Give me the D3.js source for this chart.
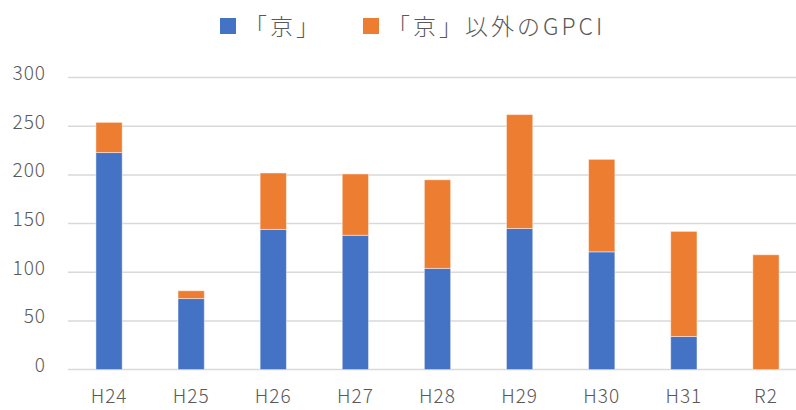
<!DOCTYPE html>
<html>
<head>
<meta charset="utf-8">
<script src="https://cdn.jsdelivr.net/npm/d3@7"></script>
<style>
  html, body { margin: 0; padding: 0; background: #fff; }
  #chart { width: 796px; height: 410px; overflow: hidden; }
</style>
</head>
<body>
<div id="chart"></div>
<script>
const categories = ["H24", "H25", "H26", "H27", "H28", "H29", "H30", "H31", "R2"];
const kyoValues = [223, 73, 144, 138, 104, 145, 121, 34, 0];
const otherValues = [31, 8, 58, 63, 91, 117, 95, 108, 118];
const seriesNames = ["「京」", "「京」以外のGPCI"];
const yTicks = [0, 50, 100, 150, 200, 250, 300];

const width = 796;
const height = 410;
const colors = ["#4472C4", "#ED7D31"];
const font = "'Noto Sans CJK JP', 'Noto Sans', sans-serif";

// table for d3.stack
const table = categories.map((c, i) => ({ cat: c, kyo: kyoValues[i], other: otherValues[i] }));
const stacked = d3.stack().keys(["kyo", "other"])(table);

const x = d3.scaleBand()
    .domain(categories)
    .range([68, 807])
    .paddingInner(0.68)
    .paddingOuter(0.34);

const y = d3.scaleLinear()
    .domain([0, 300])
    .range([369.6, 77.6]);

const svg = d3.create("svg")
    .attr("width", width)
    .attr("height", height)
    .attr("viewBox", [0, 0, width, height])
    .style("font-family", font)
    .style("font-weight", 300);

// gridlines
svg.append("g")
    .selectAll("line")
    .data(yTicks)
    .join("line")
    .attr("x1", 68)
    .attr("x2", width)
    .attr("y1", d => y(d))
    .attr("y2", d => y(d))
    .attr("stroke", "#d9d9d9")
    .attr("stroke-width", 1.5);

// y axis labels
const yAxis = svg.append("g")
    .attr("transform", "translate(46,0)")
    .call(d3.axisLeft(y).tickValues(yTicks).tickSize(0).tickPadding(0));
yAxis.select(".domain").remove();
yAxis.selectAll("text")
    .attr("fill", "#595959")
    .style("font-size", "19px")
    .style("font-family", font)
    .style("font-weight", 300)
    .style("letter-spacing", "1px")
    .attr("dy", "0.1em");

// bars
svg.append("g")
    .selectAll("g")
    .data(stacked)
    .join("g")
    .attr("fill", (d, i) => colors[i])
    .selectAll("rect")
    .data(d => d.filter(s => s[1] - s[0] > 0))
    .join("rect")
    .attr("x", d => x(d.data.cat))
    .attr("width", x.bandwidth())
    .attr("y", d => y(d[1]))
    .attr("height", d => y(d[0]) - y(d[1]))
    .attr("stroke", "#ffffff")
    .attr("stroke-opacity", 0.45)
    .attr("stroke-width", 1);

// x axis labels
const xAxis = svg.append("g")
    .attr("transform", `translate(0,${y(0)})`)
    .call(d3.axisBottom(x).tickSize(0).tickPadding(0));
xAxis.select(".domain").remove();
xAxis.selectAll("text")
    .attr("fill", "#595959")
    .style("font-size", "19px")
    .style("font-family", font)
    .style("font-weight", 300)
    .style("letter-spacing", "1px")
    .attr("dy", "1.75em");

// legend
const legendX = [220, 363];
const legend = svg.append("g")
    .selectAll("g")
    .data(seriesNames)
    .join("g")
    .attr("transform", (d, i) => `translate(${legendX[i]},18)`);

legend.append("rect")
    .attr("width", 16)
    .attr("height", 16)
    .attr("fill", (d, i) => colors[i]);

legend.append("text")
    .attr("x", 24)
    .attr("y", 9)
    .attr("dy", "0.36em")
    .attr("fill", "#595959")
    .style("font-size", "23px")
    .style("font-weight", 300)
    .style("letter-spacing", "3px")
    .text(d => d);

document.getElementById("chart").appendChild(svg.node());
</script>
</body>
</html>
